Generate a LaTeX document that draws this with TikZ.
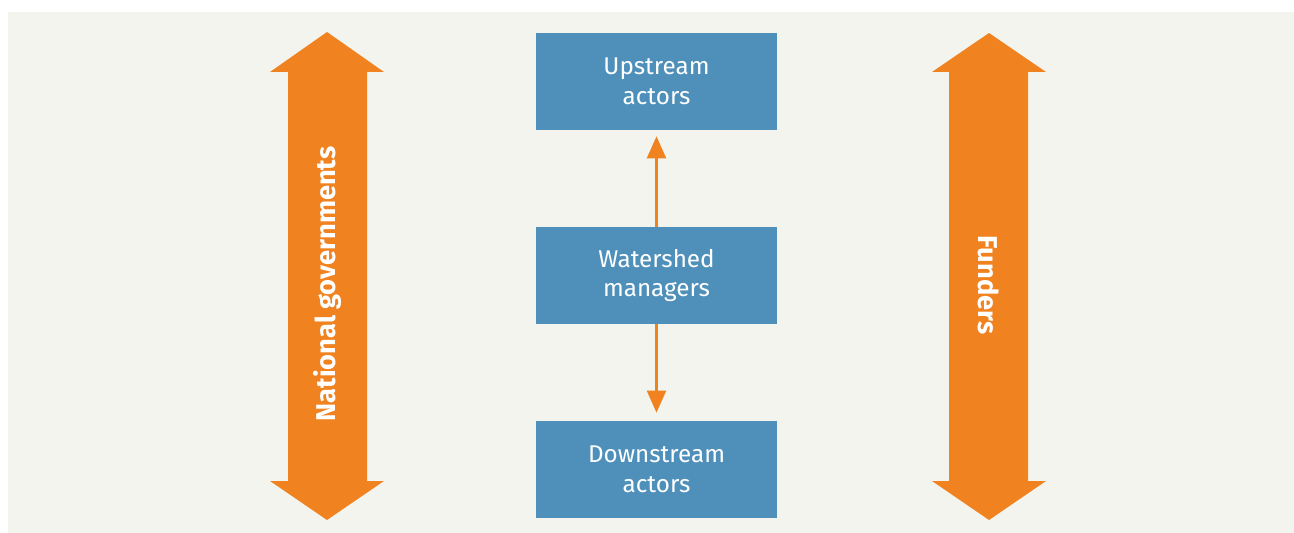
\documentclass[tikz,border=0pt]{standalone}
\usepackage{fontspec}
\setmainfont{Fira Sans}
\usetikzlibrary{arrows.meta}
\definecolor{bgcol}{HTML}{F4F4EF}
\definecolor{boxblue}{HTML}{4F90BB}
\definecolor{arrorange}{HTML}{F08220}

\tikzset{
  actor/.style={fill=boxblue, text=white, minimum width=4.82cm, minimum height=1.94cm,
    inner sep=0pt, align=center, font=\fontsize{13.8}{17}\selectfont},
  link/.style={draw=arrorange, line width=1.3pt, -{Triangle[length=0.44cm,width=0.38cm]}},
  bigarrow/.style={fill=arrorange},
  sidelabel/.style={text=white, font=\fontsize{15.5}{18}\selectfont\bfseries}
}

\begin{document}
\begin{tikzpicture}[x=0.02cm,y=-0.02cm]
\useasboundingbox (0,0) rectangle (1294,533);
\fill[bgcol] (8,12) rectangle (1294,533);
% centre boxes
\node[actor] (up) at (656.5,81.5) {Upstream\\actors};
\node[actor] (ws) at (656.5,275.5) {Watershed\\managers};
\node[actor] (down) at (656.5,469.5) {Downstream\\actors};
\draw[link, shorten >=0.12cm] (ws.north) -- (up.south);
\draw[link, shorten >=0.16cm] (ws.south) -- (down.north);
% side arrows
\fill[bigarrow] (327,32) -- (384,72) -- (367,72) -- (367,481) -- (384,481) -- (327,520)
  -- (270,481) -- (288,481) -- (288,72) -- (270,72) -- cycle;
\node[sidelabel, rotate=90] (gov) at (327.5,284) {National governments};
\fill[bigarrow] (989,33) -- (1046,72) -- (1028,72) -- (1028,481) -- (1046,481) -- (989,520)
  -- (932,481) -- (949,481) -- (949,72) -- (932,72) -- cycle;
\node[sidelabel, rotate=-90] (fund) at (988.5,285) {Funders};
\end{tikzpicture}
\end{document}
